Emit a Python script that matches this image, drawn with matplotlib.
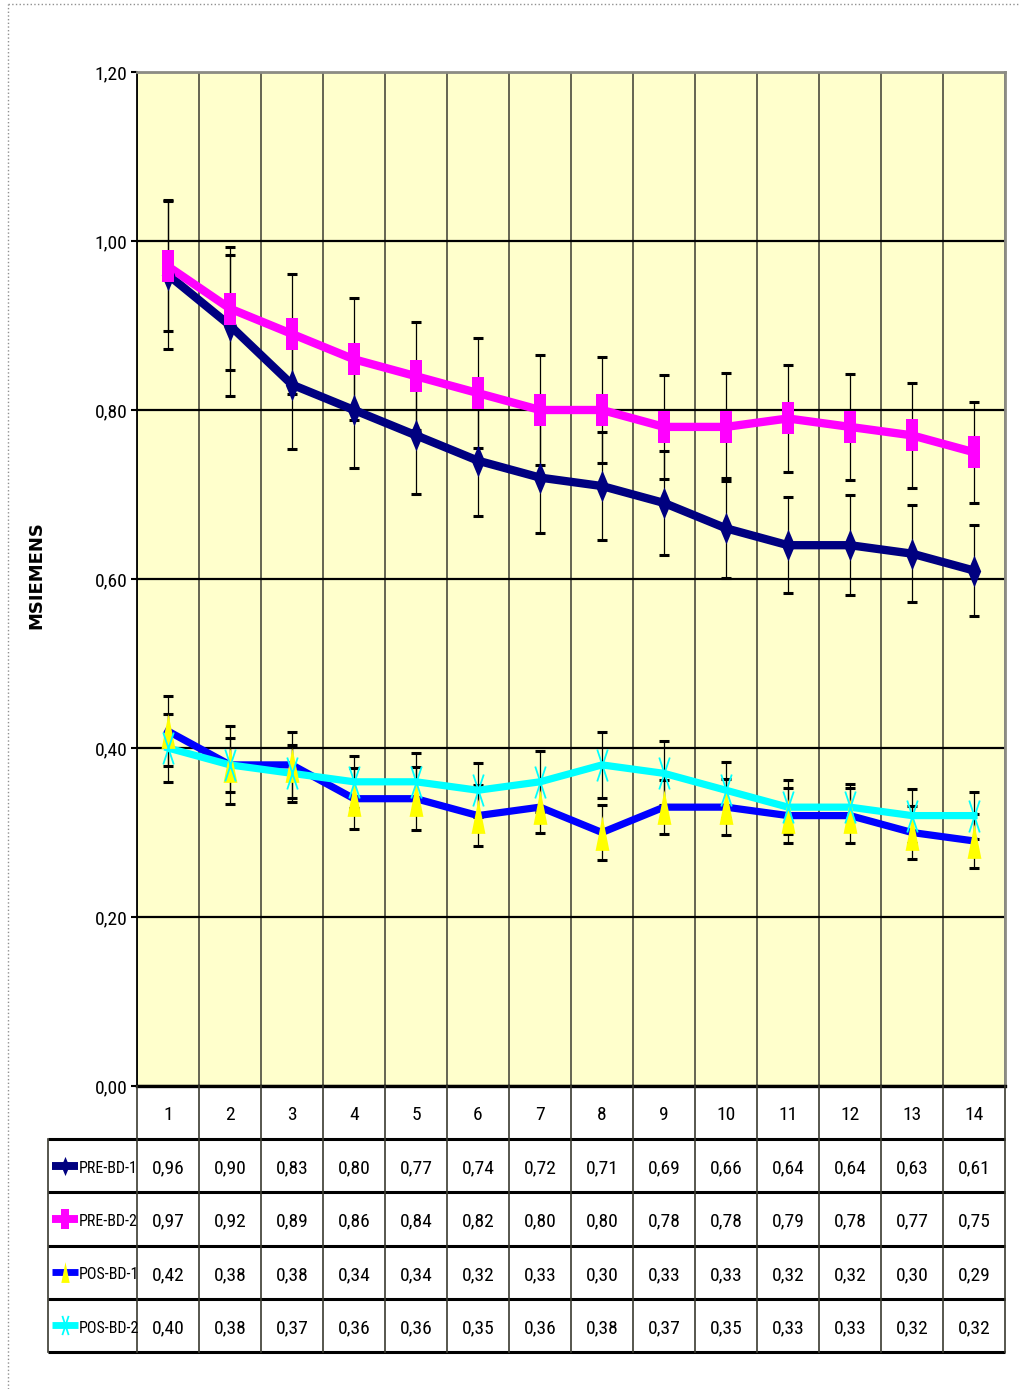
import matplotlib
matplotlib.use('Agg')
import matplotlib.pyplot as plt
from matplotlib import font_manager
from matplotlib.lines import Line2D
from matplotlib.path import Path
import numpy as np

# pick a narrow font if there is one, else Arial-like Liberation Sans
installed = {f.name for f in font_manager.fontManager.ttflist}
narrow = [f for f in ['Liberation Sans Narrow', 'Roboto Condensed', 'DejaVu Sans Condensed'] if f in installed]
base_font = narrow[0] if narrow else 'Liberation Sans'
plt.rcParams['font.family'] = [base_font, 'DejaVu Sans']
label_size = 11.5 if narrow else 9.5
num_size = 14 if narrow else 11.5

periods = np.arange(1, 15)
series_names = ['PRE-BD-1', 'PRE-BD-2', 'POS-BD-1', 'POS-BD-2']
pre_bd_1 = [0.96, 0.90, 0.83, 0.80, 0.77, 0.74, 0.72, 0.71, 0.69, 0.66, 0.64, 0.64, 0.63, 0.61]
pre_bd_2 = [0.97, 0.92, 0.89, 0.86, 0.84, 0.82, 0.80, 0.80, 0.78, 0.78, 0.79, 0.78, 0.77, 0.75]
pos_bd_1 = [0.42, 0.38, 0.38, 0.34, 0.34, 0.32, 0.33, 0.30, 0.33, 0.33, 0.32, 0.32, 0.30, 0.29]
pos_bd_2 = [0.40, 0.38, 0.37, 0.36, 0.36, 0.35, 0.36, 0.38, 0.37, 0.35, 0.33, 0.33, 0.32, 0.32]

# error bars
err_pre_1 = [0.088, 0.083, 0.076, 0.069, 0.069, 0.066, 0.065, 0.064, 0.062, 0.059, 0.057, 0.059, 0.057, 0.054]
err_pre_2 = [0.077, 0.073, 0.071, 0.072, 0.064, 0.065, 0.065, 0.063, 0.062, 0.064, 0.063, 0.063, 0.062, 0.060]
err_pos_1 = [0.041, 0.046, 0.039, 0.036, 0.037, 0.036, 0.030, 0.033, 0.032, 0.033, 0.033, 0.033, 0.031, 0.032]
err_pos_2 = [0.040, 0.032, 0.034, 0.031, 0.034, 0.032, 0.036, 0.039, 0.038, 0.033, 0.032, 0.027, 0.032, 0.028]

values = [pre_bd_1, pre_bd_2, pos_bd_1, pos_bd_2]
errors = [err_pre_1, err_pre_2, err_pos_1, err_pos_2]

# tall excel-like markers
diamond = [(0, -1), (0.42, 0), (0, 1), (-0.42, 0), (0, -1)]
rect = [(-0.4, -1), (0.4, -1), (0.4, 1), (-0.4, 1), (-0.4, -1)]
tri = [(-0.4, -1), (0.4, -1), (0, 1), (-0.4, -1)]
star = Path([(-0.33, -1), (0.33, 1), (0.33, -1), (-0.33, 1)],
            [Path.MOVETO, Path.LINETO, Path.MOVETO, Path.LINETO])

styles = [
    dict(color='#000080', lw=6.0, marker=diamond, ms=23, mfc='#000080', mec='#000080', mew=0),
    dict(color='#FF00FF', lw=6.0, marker=rect, ms=23, mfc='#FF00FF', mec='#FF00FF', mew=0),
    dict(color='#0000FF', lw=5.2, marker=tri, ms=25, mfc='#FFFF00', mec='#FFFF00', mew=0),
    dict(color='#00FFFF', lw=5.2, marker=star, ms=23, mfc='none', mec='#00FFFF', mew=1.3),
]

W, H = 1019, 1389
fig = plt.figure(figsize=(W / 100, H / 100), dpi=100)
fig.patch.set_facecolor('white')

px_left, px_right, px_top, px_bottom = 137, 1005, 72, 1086
ax = fig.add_axes([px_left / W, 1 - px_bottom / H, (px_right - px_left) / W, (px_bottom - px_top) / H])
ax.set_facecolor('#FFFFCC')
ax.set_xlim(0.5, 14.5)
ax.set_ylim(0, 1.2)

yt = np.arange(0, 1.21, 0.2)
ax.set_yticks(yt)
ax.set_yticklabels([f'{v:.2f}'.replace('.', ',') for v in yt], fontsize=num_size)
ax.tick_params(axis='y', length=4, width=1.5, pad=3)
ax.set_xticks([])
ax.set_xticks(np.arange(0.5, 14.6, 1), minor=True)
ax.tick_params(axis='x', which='both', length=0, labelbottom=False)
ax.yaxis.grid(True, color='black', lw=1.6, zorder=1)
ax.xaxis.grid(True, which='minor', color='#3a3a30', lw=1.1, zorder=1)
ax.set_axisbelow(True)
ax.spines['left'].set_color('black')
ax.spines['left'].set_linewidth(1.3)
ax.spines['bottom'].set_color('black')
ax.spines['bottom'].set_linewidth(2.4)
for s in ['top', 'right']:
    ax.spines[s].set_color('#8c8c84')
    ax.spines[s].set_linewidth(2)

for vals, err in zip(values, errors):
    ax.errorbar(periods, vals, yerr=err, fmt='none', ecolor='black', elinewidth=0.9,
                capsize=3.6, capthick=2.2, zorder=2.5)

for vals, st in zip(values, styles):
    ax.plot(periods, vals, color=st['color'], lw=st['lw'], zorder=3, solid_joinstyle='miter')
for vals, st in zip(values, styles):
    ax.plot(periods, vals, ls='none', marker=st['marker'], ms=st['ms'], mfc=st['mfc'],
            mec=st['mec'], mew=st['mew'], zorder=4)

fig.text(36 / W, 1 - 575 / H, 'MSIEMENS', rotation=90, ha='center', va='center',
         fontsize=13, fontweight='bold', family='DejaVu Sans')

# data table under the plot
px_tleft, px_tbottom = 48, 1352
cw = (px_right - px_left) / 14
x0 = 0.5 - (px_left - px_tleft) / cw
axt = fig.add_axes([px_tleft / W, 1 - px_tbottom / H, (px_right - px_tleft) / W, (px_tbottom - px_bottom) / H])
axt.set_xlim(x0, 14.5)
axt.set_ylim(5, 0)
axt.axis('off')

for r in range(1, 6):
    axt.plot([x0, 14.5], [r, r], color='black', lw=2.2, clip_on=False, solid_capstyle='butt')
axt.plot([x0, x0], [1, 5], color='#3a3a30', lw=1.2, clip_on=False)
for b in np.arange(0.5, 14.6, 1):
    axt.plot([b, b], [0, 5], color='#3a3a30', lw=1.2, clip_on=False)

for p in periods:
    axt.text(p, 0.55, str(p), ha='center', va='center', fontsize=num_size)

for r, (name, vals, st) in enumerate(zip(series_names, values, styles), start=1):
    k0 = x0 + 4 / cw
    k1 = x0 + 30 / cw
    axt.plot([k0, k1], [r + 0.5, r + 0.5], color=st['color'], lw=st['lw'] * 0.95, clip_on=False,
             solid_capstyle='butt')
    axt.plot([(k0 + k1) / 2], [r + 0.5], ls='none', marker=st['marker'], ms=st['ms'] * 0.6,
             mfc=st['mfc'], mec=st['mec'], mew=st['mew'], clip_on=False)
    axt.text(x0 + 31 / cw, r + 0.55, name, ha='left', va='center', fontsize=label_size)
    for p, v in zip(periods, vals):
        axt.text(p, r + 0.55, f'{v:.2f}'.replace('.', ','), ha='center', va='center', fontsize=num_size)

# dotted frame at top/left of the page
fig.add_artist(Line2D([8 / W, 8 / W], [0, 1 - 4 / H], transform=fig.transFigure,
                      color='#909090', ls=':', lw=1))
fig.add_artist(Line2D([8 / W, 1], [1 - 4 / H, 1 - 4 / H], transform=fig.transFigure,
                      color='#909090', ls=':', lw=1))

fig.savefig('out.png', dpi=100)
